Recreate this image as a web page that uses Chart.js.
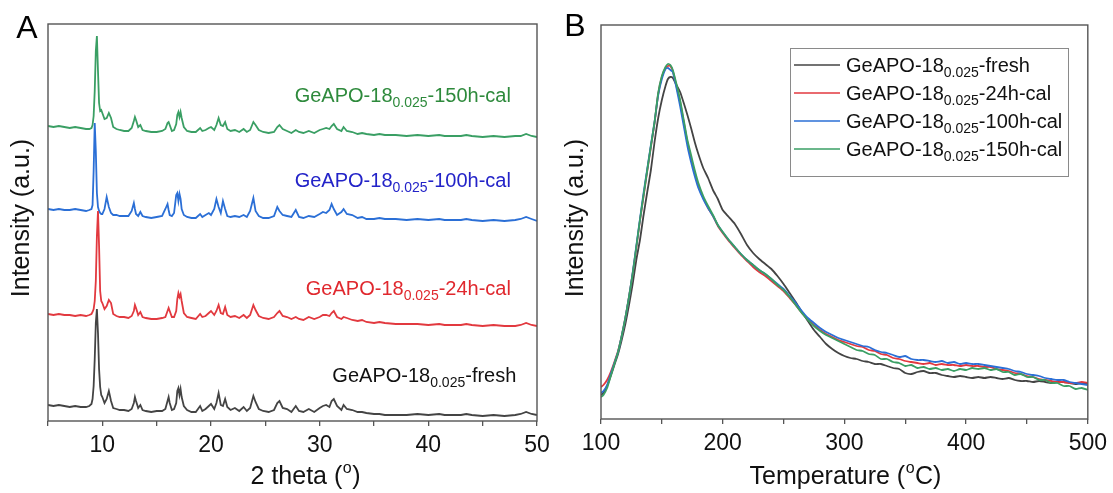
<!DOCTYPE html>
<html>
<head>
<meta charset="utf-8">
<script src="https://cdn.jsdelivr.net/npm/chart.js@4.4.1/dist/chart.umd.min.js"></script>
<style>
  html, body { margin: 0; padding: 0; background: #fff; }
  #wrap { position: relative; width: 1113px; height: 493px; overflow: hidden; }
  canvas { position: absolute; top: 0; }
  #xrd { left: 0; }
  #tpd { left: 556px; }
</style>
</head>
<body>
<div id="wrap">
  <canvas id="xrd" width="556" height="493"></canvas>
  <canvas id="tpd" width="557" height="493"></canvas>
</div>
<script>
// nombres de muestras (base + subindice + sufijo)
const nombreBase = 'GeAPO-18';
const nombreSub = '0.025';
const sufijos = ['-fresh', '-24h-cal', '-100h-cal', '-150h-cal'];
const colores = ['#444444', '#e2393f', '#2b6fd6', '#3a9f64'];
const coloresTexto = ['#111111', '#e0282e', '#2323c8', '#2e8a3c'];

// ---- A: XRD, 2 theta ----
const xrdTheta = [
  5, 5.5, 6, 6.5, 7, 7.5, 8, 8.5, 8.8, 9.0,
  9.1, 9.2, 9.3, 9.4, 9.5, 9.6, 9.7, 9.8, 9.9, 10.0,
  10.2, 10.4, 10.6, 10.8, 11.0, 11.3, 11.6, 12.0, 12.4, 12.7,
  12.9, 13.0, 13.1, 13.3, 13.5, 13.7, 14.0, 14.5, 15.0, 15.5,
  15.8, 16.0, 16.1, 16.2, 16.4, 16.6, 16.8, 16.9, 17.0, 17.1,
  17.2, 17.3, 17.5, 17.8, 18.2, 18.6, 19.0, 19.2, 19.5, 19.8,
  20.0, 20.3, 20.5, 20.7, 20.9, 21.1, 21.3, 21.5, 21.8, 22.2,
  22.6, 23.0, 23.3, 23.6, 23.9, 24.1, 24.4, 24.8, 25.3, 25.8,
  26.1, 26.3, 26.6, 27.0, 27.4, 27.8, 28.1, 28.5, 29.0, 29.5,
  30.0, 30.3, 30.6, 30.9, 31.1, 31.3, 31.6, 32.0, 32.2, 32.5,
  33.0, 33.5, 33.9, 34.3, 35, 35.5, 36, 37, 38, 39,
  40, 41, 41.5, 42, 43, 43.5, 44, 45, 46, 47,
  48, 48.5, 49, 49.5, 50
];
const xrdFresh = [
  16, 15, 16, 15, 14, 15, 14, 14, 15, 17,
  22, 35, 62, 98, 112, 88, 52, 34, 26, 24,
  18, 22, 30, 20, 13, 12, 11, 11, 10, 12,
  18, 24, 20, 13, 16, 11, 10, 9, 10, 10,
  12, 20, 24, 18, 11, 12, 18, 30, 33, 26,
  32, 24, 15, 11, 9, 9, 15, 10, 12, 15,
  17, 12, 18, 28, 16, 15, 22, 14, 11, 13,
  10, 14, 10, 13, 25, 19, 12, 10, 9, 11,
  18, 20, 13, 12, 9, 15, 10, 9, 12, 9,
  13, 15, 16, 14, 20, 22, 15, 11, 16, 12,
  11, 9, 9, 8, 7, 7, 6, 6, 6, 7,
  6, 7, 6, 6, 6, 7, 6, 5, 6, 5,
  6, 7, 9, 7, 6
];
const xrd24h = [
  107, 106, 107, 106, 106, 105, 106, 105, 106, 107,
  109, 112, 120, 140, 185, 210, 175, 130, 120, 118,
  112, 115, 121, 118, 107, 105, 104, 104, 103, 105,
  110, 116, 113, 106, 109, 104, 103, 102, 102, 103,
  104, 110, 113, 110, 104, 104, 110, 122, 128, 124,
  127, 120, 108, 104, 103, 102, 107, 104, 105, 108,
  110, 106, 110, 116, 108, 107, 114, 106, 104, 105,
  103, 106, 103, 106, 116, 111, 105, 103, 102, 104,
  108, 110, 105, 104, 102, 104, 102, 101, 104, 102,
  104, 106, 106, 105, 108, 110, 104, 102, 104, 103,
  101, 100, 101, 99, 98, 99, 98, 97, 97, 97,
  96, 97, 96, 96, 96, 97, 96, 95, 96, 95,
  95, 96, 98, 96, 95
];
const xrd100h = [
  212, 211, 212, 211, 211, 212, 211, 210, 211, 212,
  216, 250, 298, 270, 228, 214, 210, 208, 207, 207,
  212, 224, 214, 208, 206, 206, 205, 205, 205, 210,
  218, 212, 207, 205, 209, 205, 204, 203, 204, 205,
  212, 217, 211, 206, 205, 208, 226, 228, 220, 227,
  222, 212, 206, 204, 203, 203, 207, 204, 206, 208,
  206, 212, 222, 214, 208, 220, 212, 205, 204, 205,
  204, 206, 204, 210, 223, 210, 205, 203, 203, 205,
  214, 210, 206, 205, 204, 211, 204, 203, 205, 204,
  207, 209, 208, 211, 217, 212, 206, 209, 212, 207,
  206, 203, 204, 202, 202, 203, 202, 202, 201, 202,
  201, 202, 201, 201, 201, 202, 201, 200, 201, 200,
  201, 202, 204, 202, 200
];
const xrd150h = [
  295, 294, 295, 294, 293, 294, 293, 292, 292, 293,
  296, 305, 330, 370, 385, 350, 318, 310, 311, 308,
  302, 303, 308, 303, 294, 292, 291, 290, 290, 293,
  300, 304, 301, 294, 296, 291, 290, 289, 289, 290,
  292, 298, 299, 296, 290, 291, 297, 306, 309, 304,
  309, 303, 294, 290, 289, 289, 293, 290, 291, 293,
  294, 291, 296, 303, 296, 295, 299, 292, 290, 291,
  289, 292, 289, 291, 299, 296, 291, 289, 288, 289,
  294, 296, 292, 290, 288, 291, 289, 288, 290, 288,
  291, 292, 293, 292, 295, 297, 292, 290, 294, 290,
  289, 287, 288, 287, 286, 287, 286, 286, 285, 286,
  285, 286, 285, 285, 285, 286, 285, 284, 285, 284,
  285, 285, 287, 285, 284
];
// posicion de las etiquetas de cada patron (2theta del borde derecho, intensidad de la linea base del texto)
const xrdEtiquetaX = [48.1, 47.6, 47.6, 47.6];
const xrdEtiquetaY = [39, 126, 234, 319];

// ---- B: TPD ----
const tpdTemp = [
  100, 102, 105, 108, 111, 114, 117, 120, 123, 126,
  129, 132, 135, 138, 141, 144, 147, 150, 153, 155,
  157, 159, 162, 165, 168, 171, 174, 177, 180, 184,
  188, 192, 196, 200, 205, 210, 215, 220, 225, 230,
  235, 240, 245, 250, 255, 260, 265, 270, 275, 280,
  285, 290, 295, 300, 305, 310, 315, 320, 325, 330,
  335, 340, 345, 350, 355, 360, 365, 370, 375, 380,
  385, 390, 395, 400, 405, 410, 415, 420, 425, 430,
  435, 440, 445, 450, 455, 460, 465, 470, 475, 480,
  485, 490, 495, 500
];
const tpdFresh = [
  24, 26, 33, 43, 54, 65, 79, 95, 114, 135,
  159, 179, 204, 227, 249, 277, 301, 319, 333, 340,
  342, 341, 334, 327, 316, 304, 291, 277, 265, 251,
  241, 229, 220, 209, 202, 195, 185, 174, 166, 160,
  155, 150, 143, 135, 126, 117, 107, 98, 89, 82,
  75, 70, 66, 63, 61, 60, 58, 57, 55, 55,
  53, 51, 50, 46, 45, 47, 48, 46, 46, 44,
  43, 42, 43, 42, 41, 42, 41, 42, 41, 40,
  41, 39, 38, 38, 37, 38, 37, 36, 37, 37,
  36, 35, 36, 35
];
const tpd24h = [
  32, 34, 39, 47, 57, 68, 83, 101, 122, 145,
  171, 198, 223, 248, 272, 296, 325, 342, 351, 353,
  353, 348, 333, 317, 297, 277, 261, 246, 233, 221,
  211, 203, 193, 186, 178, 171, 164, 158, 152, 147,
  143, 138, 133, 128, 121, 114, 106, 100, 94, 89,
  85, 82, 79, 77, 75, 73, 72, 69, 68, 65,
  64, 61, 60, 58, 57, 56, 55, 56, 54, 55,
  54, 54, 53, 54, 53, 53, 52, 52, 50, 49,
  48, 46, 45, 43, 42, 40, 39, 38, 37, 37,
  36, 36, 37, 36
];
const tpd100h = [
  26, 28, 34, 45, 56, 67, 83, 101, 122, 146,
  173, 200, 226, 250, 274, 297, 324, 340, 350, 351,
  349, 347, 331, 313, 293, 273, 257, 243, 231, 220,
  211, 203, 194, 187, 179, 172, 165, 159, 154, 149,
  145, 140, 135, 130, 123, 116, 108, 101, 96, 91,
  87, 84, 81, 79, 77, 75, 73, 72, 69, 67,
  66, 64, 62, 63, 60, 59, 59, 58, 57, 58,
  56, 57, 55, 56, 55, 55, 54, 53, 52, 51,
  50, 48, 47, 45, 44, 43, 41, 40, 39, 39,
  37, 36, 35, 34
];
const tpd150h = [
  22, 24, 31, 43, 55, 67, 83, 101, 122, 145,
  172, 199, 224, 249, 273, 297, 326, 343, 352, 355,
  354, 349, 335, 319, 299, 279, 264, 249, 236, 223,
  213, 204, 194, 187, 179, 172, 165, 159, 154, 149,
  145, 140, 134, 129, 122, 114, 106, 99, 93, 88,
  84, 81, 78, 75, 72, 69, 68, 65, 64, 60,
  60, 57, 56, 53, 54, 51, 52, 50, 51, 49,
  50, 48, 50, 49, 51, 50, 51, 49, 50, 47,
  47, 44, 45, 42, 42, 39, 39, 36, 36, 33,
  33, 30, 31, 29
];

const FUENTE = '"Liberation Sans", Arial, sans-serif';

function puntos(xs, ys) {
    return xs.map((x, i) => ({ x: x, y: ys[i] }));
}

// texto con subindice: GeAPO-18_0.025-xxx
function dibujarNombre(ctx, x, y, sufijo, color, tam, alinear) {
    const tamSub = Math.round(tam * 0.7);
    ctx.save();
    ctx.fillStyle = color;
    ctx.textBaseline = 'alphabetic';
    ctx.textAlign = 'left';
    ctx.font = `${tam}px ${FUENTE}`;
    const w1 = ctx.measureText(nombreBase).width;
    const w3 = ctx.measureText(sufijo).width;
    ctx.font = `${tamSub}px ${FUENTE}`;
    const w2 = ctx.measureText(nombreSub).width;
    let x0 = alinear === 'right' ? x - (w1 + w2 + w3) : x;
    ctx.font = `${tam}px ${FUENTE}`;
    ctx.fillText(nombreBase, x0, y);
    ctx.font = `${tamSub}px ${FUENTE}`;
    ctx.fillText(nombreSub, x0 + w1, y + 5);
    ctx.font = `${tam}px ${FUENTE}`;
    ctx.fillText(sufijo, x0 + w1 + w2, y);
    ctx.restore();
}

// titulo con superindice: antes (o) despues
function dibujarTituloSup(ctx, cx, cy, antes, sup, despues) {
    ctx.save();
    ctx.fillStyle = '#111';
    ctx.textBaseline = 'middle';
    ctx.textAlign = 'left';
    ctx.font = `25px ${FUENTE}`;
    const w1 = ctx.measureText(antes).width;
    const w3 = ctx.measureText(despues).width;
    ctx.font = `16px ${FUENTE}`;
    const w2 = ctx.measureText(sup).width;
    const x0 = cx - (w1 + w2 + w3) / 2;
    ctx.font = `25px ${FUENTE}`;
    ctx.fillText(antes, x0, cy);
    ctx.font = `16px ${FUENTE}`;
    ctx.fillText(sup, x0 + w1 + 0.5, cy - 8);
    ctx.font = `25px ${FUENTE}`;
    ctx.fillText(despues, x0 + w1 + w2 + 1, cy);
    ctx.restore();
}

function dibujarTituloY(ctx, cx, cy) {
    ctx.save();
    ctx.translate(cx, cy);
    ctx.rotate(-Math.PI / 2);
    ctx.fillStyle = '#111';
    ctx.font = `25px ${FUENTE}`;
    ctx.textAlign = 'center';
    ctx.textBaseline = 'middle';
    ctx.fillText('Intensity (a.u.)', 0, 0);
    ctx.restore();
}

function dibujarMarco(chart) {
    const { ctx, chartArea: a } = chart;
    ctx.save();
    ctx.strokeStyle = '#555';
    ctx.lineWidth = 1.4;
    ctx.strokeRect(a.left, a.top, a.right - a.left, a.bottom - a.top);
    ctx.restore();
}

function letraPanel(ctx, letra, x, y) {
    ctx.save();
    ctx.fillStyle = '#000';
    ctx.font = `32px ${FUENTE}`;
    ctx.textAlign = 'center';
    ctx.textBaseline = 'middle';
    ctx.fillText(letra, x, y);
    ctx.restore();
}

const pluginXrd = {
    id: 'extrasXrd',
    afterDatasetsDraw(chart) {
        const ctx = chart.ctx;
        const sx = chart.scales.x, sy = chart.scales.y;
        dibujarMarco(chart);
        sufijos.forEach((s, i) => {
            dibujarNombre(ctx, sx.getPixelForValue(xrdEtiquetaX[i]), sy.getPixelForValue(xrdEtiquetaY[i]),
                s, coloresTexto[i], 20, 'right');
        });
        dibujarTituloSup(ctx, 305, 477, '2 theta (', 'o', ')');
        dibujarTituloY(ctx, 22, 218);
        letraPanel(ctx, 'A', 27, 29);
    }
};

const pluginTpd = {
    id: 'extrasTpd',
    afterDatasetsDraw(chart) {
        const ctx = chart.ctx;
        dibujarMarco(chart);
        // leyenda
        ctx.save();
        ctx.strokeStyle = '#8a8a8a';
        ctx.lineWidth = 1;
        ctx.strokeRect(234.5, 48.5, 278, 128);
        const filas = [65, 93, 121, 149];
        sufijos.forEach((s, i) => {
            ctx.strokeStyle = colores[i];
            ctx.lineWidth = 1.6;
            ctx.beginPath();
            ctx.moveTo(238, filas[i]);
            ctx.lineTo(284, filas[i]);
            ctx.stroke();
            dibujarNombre(ctx, 290, filas[i] + 7, s, '#111', 20, 'left');
        });
        ctx.restore();
        dibujarTituloSup(ctx, 845 - 556, 477, 'Temperature (', 'o', 'C)');
        dibujarTituloY(ctx, 576 - 556, 218);
        letraPanel(ctx, 'B', 575 - 556, 27);
    }
};

function opcionesEscalas(min, max, paso, mayor, altoX, anchoY) {
    return {
        x: {
            type: 'linear', min: min, max: max,
            afterFit: s => { s.height = altoX; },
            border: { display: false },
            grid: { display: true, drawOnChartArea: false, drawTicks: true, tickLength: 5, color: '#555', lineWidth: 1.3 },
            ticks: {
                stepSize: paso, autoSkip: false, maxRotation: 0, padding: 6,
                color: '#111', font: { family: FUENTE, size: 23 },
                callback: v => (v % mayor === 0 ? v : '')
            }
        },
        y: {
            type: 'linear', min: 0, max: 396,
            afterFit: s => { s.width = anchoY; },
            border: { display: false },
            grid: { display: false },
            ticks: { display: false }
        }
    };
}

new Chart(document.getElementById('xrd'), {
    type: 'line',
    data: {
        datasets: [xrdFresh, xrd24h, xrd100h, xrd150h].map((serie, i) => ({
            label: nombreBase + '_' + nombreSub + sufijos[i],
            data: puntos(xrdTheta, serie),
            borderColor: colores[i],
            borderWidth: 1.8,
            pointRadius: 0,
            tension: 0
        }))
    },
    options: {
        responsive: false,
        animation: false,
        layout: { padding: { left: 0, right: 19, top: 24, bottom: 0 } },
        plugins: { legend: { display: false }, tooltip: { enabled: false } },
        scales: (() => { const s = opcionesEscalas(5, 50, 5, 10, 72, 48); s.y.max = 397; return s; })()
    },
    plugins: [pluginXrd]
});

new Chart(document.getElementById('tpd'), {
    type: 'line',
    data: {
        datasets: [tpdFresh, tpd24h, tpd100h, tpd150h].map((serie, i) => ({
            label: nombreBase + '_' + nombreSub + sufijos[i],
            data: puntos(tpdTemp, serie),
            borderColor: colores[i],
            borderWidth: 1.8,
            pointRadius: 0,
            tension: 0.2,
            order: 3 - i
        }))
    },
    options: {
        responsive: false,
        animation: false,
        layout: { padding: { left: 0, right: 24, top: 25, bottom: 0 } },
        plugins: { legend: { display: false }, tooltip: { enabled: false } },
        scales: (() => { const s = opcionesEscalas(100, 500, 50, 100, 74, 45); s.y.max = 394; return s; })()
    },
    plugins: [pluginTpd]
});
</script>
</body>
</html>
